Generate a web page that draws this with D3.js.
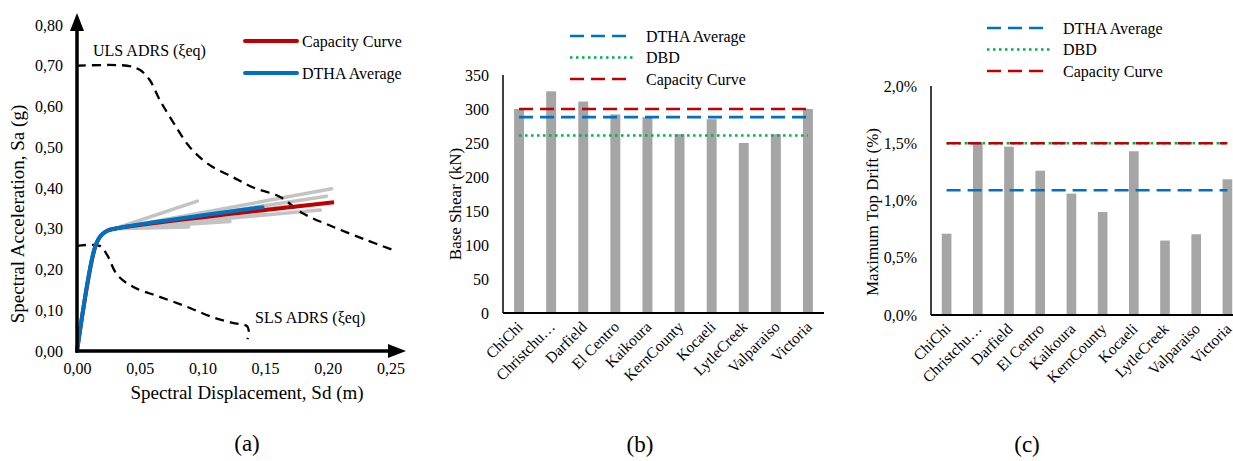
<!DOCTYPE html>
<html>
<head>
<meta charset="utf-8">
<script src="https://cdn.jsdelivr.net/npm/d3@7"></script>
<style>
  body { margin: 0; background: #fff; }
  svg, svg text { font-family: "Liberation Serif", "Times New Roman", serif; }
</style>
</head>
<body>
<svg id="chart" width="1233" height="461"></svg>
<script>
// ---- panel (a) data: ADRS spectra and capacity curves ----
const sdTicks = [0, 0.05, 0.10, 0.15, 0.20, 0.25]
const saTicks = [0, 0.1, 0.2, 0.3, 0.4, 0.5, 0.6, 0.7, 0.8]

const ulsSd = [0, 0.040, 0.050, 0.058, 0.066, 0.077, 0.090, 0.105, 0.124, 0.140, 0.162, 0.180, 0.204, 0.231, 0.252]
const ulsSa = [0.70, 0.70, 0.69, 0.665, 0.616, 0.56, 0.50, 0.458, 0.427, 0.402, 0.378, 0.338, 0.305, 0.272, 0.248]

const slsSd = [0, 0.018, 0.024, 0.032, 0.045, 0.066, 0.088, 0.108, 0.124, 0.1356, 0.137, 0.136]
const slsSa = [0.258, 0.258, 0.236, 0.187, 0.157, 0.133, 0.108, 0.083, 0.069, 0.061, 0.049, 0.029]

const capSd = [0, 0.0145, 0.019, 0.024, 0.030, 0.205]
const capSa = [0, 0.255, 0.283, 0.295, 0.300, 0.365]

const dthaSd = [0, 0.014, 0.0185, 0.0235, 0.030, 0.148]
const dthaSa = [0, 0.252, 0.281, 0.294, 0.300, 0.353]

// individual records (grey), post-yield branch
const greyCurves = [
    [[0.030, 0.300], [0.096, 0.368]],
    [[0.030, 0.300], [0.203, 0.398]],
    [[0.030, 0.300], [0.199, 0.380]],
    [[0.030, 0.300], [0.194, 0.346]],
    [[0.030, 0.300], [0.089, 0.304]],
    [[0.030, 0.300], [0.122, 0.318]],
    [[0.030, 0.300], [0.170, 0.356]],
    [[0.030, 0.300], [0.150, 0.336]]
]

// ---- panels (b) and (c) data ----
const records = ["ChiChi", "Christchu\u2026", "Darfield", "El Centro", "Kaikoura", "KernCounty", "Kocaeli", "LytleCreek", "Valparaiso", "Victoria"]
const baseShear = [300, 326, 311, 292, 288, 263, 285, 250, 263, 300]
const topDrift = [0.71, 1.50, 1.47, 1.26, 1.06, 0.90, 1.43, 0.65, 0.705, 1.185]

const shearTicks = [0, 50, 100, 150, 200, 250, 300, 350]
const driftTicks = [0, 0.5, 1.0, 1.5, 2.0]

const refNames = ["DTHA Average", "DBD", "Capacity Curve"]
const refShear = [288, 261, 300]
const refDrift = [1.09, 1.50, 1.50]

const refColors = ["#0070c0", "#00b050", "#c00000"]
const refDash = ["14,7", "2.5,3.5", "14,7"]

const svg = d3.select("#chart")
const comma = f => v => d3.format(f)(v).replace(".", ",")

drawPanelA()
drawBars(baseShear, shearTicks, refShear, {
    left: 503, right: 824, top: 75, bottom: 313, max: 350,
    fmt: d3.format("d"), title: "Base Shear (kN)", titleX: 455, titleY: 204,
    legX: 570, legY: 36, tag: "(b)", tagX: 640
})
drawBars(topDrift, driftTicks, refDrift, {
    left: 931, right: 1243, top: 86, bottom: 315, max: 2.0,
    fmt: v => comma(".1f")(v) + "%", title: "Maximum Top  Drift (%)", titleX: 872, titleY: 212,
    legX: 987, legY: 28, tag: "(c)", tagX: 1027
})

function drawPanelA() {
    const x = d3.scaleLinear().domain([0, 0.25]).range([77, 390.5])
    const y = d3.scaleLinear().domain([0, 0.8]).range([351, 25])
    const g = svg.append("g")

    const line = d3.line()
        .x(d => x(d[0]))
        .y(d => y(d[1]))
        .curve(d3.curveCatmullRom.alpha(0.5))
    const zip = (a, b) => a.map((v, i) => [v, b[i]])

    // grey records
    g.selectAll(".grey")
        .data(greyCurves)
        .enter()
        .append("path")
        .attr("d", line)
        .attr("fill", "none")
        .attr("stroke", "#c3c3c3")
        .attr("stroke-width", 3.5)
        .attr("stroke-linecap", "round")

    // demand spectra
    ;[zip(ulsSd, ulsSa), zip(slsSd, slsSa)].forEach(pts => {
        g.append("path")
            .attr("d", line(pts))
            .attr("fill", "none")
            .attr("stroke", "#000")
            .attr("stroke-width", 2.3)
            .attr("stroke-dasharray", "9,6")
    })

    g.append("path")
        .attr("d", line(zip(capSd, capSa)))
        .attr("fill", "none")
        .attr("stroke", "#c00000")
        .attr("stroke-width", 4)
    g.append("path")
        .attr("d", line(zip(dthaSd, dthaSa)))
        .attr("fill", "none")
        .attr("stroke", "#0070c0")
        .attr("stroke-width", 4)
        .attr("stroke-linecap", "round")

    // axes with arrows
    const x0 = x(0), y0 = y(0)
    g.append("line").attr("x1", x0).attr("x2", x0).attr("y1", y0 + 1.5).attr("y2", 28)
        .attr("stroke", "#000").attr("stroke-width", 3.5)
    g.append("path").attr("d", `M${x0},13 L${x0 - 7},31 L${x0 + 7},31 Z`).attr("fill", "#000")
    g.append("line").attr("x1", x0 - 1.5).attr("x2", 392).attr("y1", y0).attr("y2", y0)
        .attr("stroke", "#000").attr("stroke-width", 3.5)
    g.append("path").attr("d", `M406,${y0} L388,${y0 - 7} L388,${y0 + 7} Z`).attr("fill", "#000")

    const yAx = g.append("g")
        .attr("transform", "translate(" + x0 + ",0)")
        .call(d3.axisLeft(y).tickValues(saTicks).tickSize(0).tickPadding(14).tickFormat(comma(".2f")))
    const xAx = g.append("g")
        .attr("transform", "translate(0," + y0 + ")")
        .call(d3.axisBottom(x).tickValues(sdTicks).tickSize(0).tickPadding(12).tickFormat(comma(".2f")))
    ;[yAx, xAx].forEach(a => {
        a.attr("font-family", null)
        a.select(".domain").remove()
        a.selectAll("text").attr("font-size", 16).attr("fill", "#000")
    })

    g.append("text").attr("x", 93).attr("y", 56).attr("font-size", 16).text("ULS ADRS (\u03beeq)")
    g.append("text").attr("x", 255).attr("y", 323).attr("font-size", 16).text("SLS ADRS (\u03beeq)")

    g.append("text")
        .attr("x", 247).attr("y", 399)
        .attr("text-anchor", "middle").attr("font-size", 19)
        .text("Spectral Displacement, Sd (m)")
    g.append("text")
        .attr("transform", "translate(24,214) rotate(-90)")
        .attr("text-anchor", "middle").attr("font-size", 19)
        .text("Spectral Acceleration, Sa (g)")

    // legend
    const leg = [["Capacity Curve", "#c00000", 41], ["DTHA Average", "#0070c0", 73]]
    leg.forEach(l => {
        g.append("line").attr("x1", 245).attr("x2", 297).attr("y1", l[2]).attr("y2", l[2])
            .attr("stroke", l[1]).attr("stroke-width", 4).attr("stroke-linecap", "round")
        g.append("text").attr("x", 302).attr("y", l[2]).attr("dy", "0.35em")
            .attr("font-size", 16).text(l[0])
    })

    g.append("text").attr("x", 247).attr("y", 451).attr("text-anchor", "middle")
        .attr("font-size", 23).text("(a)")
}

function drawBars(values, ticks, refs, o) {
    const g = svg.append("g")
    const x = d3.scaleBand()
        .domain(records)
        .range([o.left, o.right])
        .paddingInner(0.69)
        .paddingOuter(0.345)
    const y = d3.scaleLinear().domain([0, o.max]).range([o.bottom, o.top])

    g.selectAll(".bar")
        .data(values)
        .enter()
        .append("rect")
        .attr("x", (d, i) => x(records[i]))
        .attr("width", x.bandwidth())
        .attr("y", d => y(d))
        .attr("height", d => o.bottom - y(d))
        .attr("fill", "#a5a5a5")

    // reference lines from first to last category
    const xa = x(records[0]) + x.bandwidth() / 2
    const xb = x(records[records.length - 1]) + x.bandwidth() / 2
    refs.forEach((r, i) => {
        g.append("line")
            .attr("x1", xa).attr("x2", xb)
            .attr("y1", y(r)).attr("y2", y(r))
            .attr("stroke", refColors[i])
            .attr("stroke-width", 2.6)
            .attr("stroke-dasharray", refDash[i])
    })

    g.append("line").attr("x1", o.left).attr("x2", o.left).attr("y1", o.top).attr("y2", o.bottom)
        .attr("stroke", "#000").attr("stroke-width", 1.5)
    g.append("line").attr("x1", o.left).attr("x2", o.right).attr("y1", o.bottom).attr("y2", o.bottom)
        .attr("stroke", "#000").attr("stroke-width", 2)

    const yAx = g.append("g")
        .attr("transform", "translate(" + o.left + ",0)")
        .call(d3.axisLeft(y).tickValues(ticks).tickSize(0).tickPadding(14).tickFormat(o.fmt))
    yAx.attr("font-family", null)
    yAx.select(".domain").remove()
    yAx.selectAll("text").attr("font-size", 16).attr("fill", "#000")

    g.selectAll(".cat")
        .data(records)
        .enter()
        .append("text")
        .attr("transform", d => "translate(" + (x(d) + x.bandwidth() / 2 + 1) + "," + (o.bottom + 11) + ") rotate(-45)")
        .attr("text-anchor", "end")
        .attr("dy", "0.35em")
        .attr("font-size", 15.5)
        .text(d => d)

    g.append("text")
        .attr("transform", "translate(" + o.titleX + "," + o.titleY + ") rotate(-90)")
        .attr("text-anchor", "middle").attr("dy", "0.35em").attr("font-size", 17)
        .text(o.title)

    refNames.forEach((n, i) => {
        const ly = o.legY + i * 21.5
        g.append("line").attr("x1", o.legX).attr("x2", o.legX + 63).attr("y1", ly).attr("y2", ly)
            .attr("stroke", refColors[i]).attr("stroke-width", 2.6).attr("stroke-dasharray", refDash[i])
        g.append("text").attr("x", o.legX + 76).attr("y", ly).attr("dy", "0.35em")
            .attr("font-size", 16).text(n)
    })

    g.append("text").attr("x", o.tagX).attr("y", 452).attr("text-anchor", "middle")
        .attr("font-size", 23).text(o.tag)
}
</script>
</body>
</html>
